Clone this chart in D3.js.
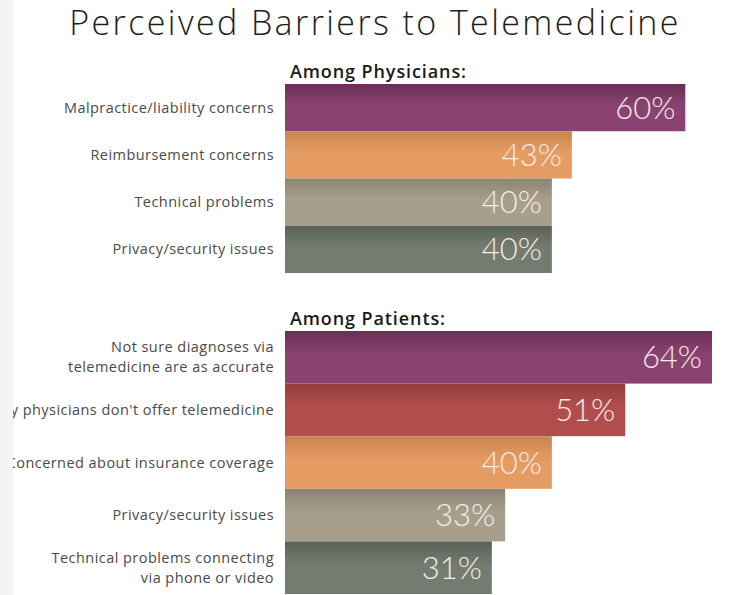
<!DOCTYPE html>
<html>
<head>
<meta charset="utf-8">
<script src="https://cdn.jsdelivr.net/npm/d3@7"></script>
<style>
  body { margin: 0; background: #fff; }
  svg { display: block; }
</style>
</head>
<body>
<svg></svg>
<script>
const width = 737
const height = 595

const physLabels = [["Malpractice/liability concerns"], ["Reimbursement concerns"], ["Technical problems"], ["Privacy/security issues"]]
const physValues = [60, 43, 40, 40]
const physColors = ["purple", "orange", "tan", "slate"]

const patLabels = [["Not sure diagnoses via", "telemedicine are as accurate"], ["Many physicians don't offer telemedicine"],
  ["Concerned about insurance coverage"], ["Privacy/security issues"], ["Technical problems connecting", "via phone or video"]]
const patValues = [64, 51, 40, 33, 31]
const patColors = ["purple", "red", "orange", "tan", "slate"]

// top / bottom shade of each bar
const palette = {
  purple: ["#6a2f55", "#8a4371"],
  red: ["#943e3f", "#b14e4c"],
  orange: ["#c8854f", "#e59c62"],
  tan: ["#8a8474", "#a79f8b"],
  slate: ["#5b6258", "#747b70"]
}

const svg = d3.select("svg").attr("width", width).attr("height", height)
const defs = svg.append("defs")
Object.entries(palette).forEach(([k, c]) => {
  const g = defs.append("linearGradient").attr("id", "g-" + k)
    .attr("x1", 0).attr("y1", 0).attr("x2", 0).attr("y2", 1)
  g.append("stop").attr("offset", "0%").attr("stop-color", c[0])
  g.append("stop").attr("offset", "45%").attr("stop-color", c[1])
  g.append("stop").attr("offset", "100%").attr("stop-color", c[1])
})

const x = d3.scaleLinear([0, 64], [285, 712])
const label_font = "'Open Sans', Lato, sans-serif"
const value_font = "Lato, 'Open Sans', sans-serif"

svg.append("text")
  .attr("x", 375).attr("y", 35)
  .attr("text-anchor", "middle")
  .style("font-family", label_font).style("font-weight", 300)
  .style("font-size", "34px").style("letter-spacing", "2.4px").style("fill", "#1e1e1e")
  .text("Perceived Barriers to Telemedicine")

let draw_group = (title, titleY, labels, values, colors, range) => {
  const y = d3.scaleBand(d3.range(values.length), range)

  svg.append("text")
    .attr("x", 290).attr("y", titleY)
    .style("font-family", label_font).style("font-weight", 600)
    .style("font-size", "18px").style("letter-spacing", "0.9px").style("fill", "#1a1a1a")
    .text(title)

  const g = svg.append("g")
  g.selectAll("rect").data(values).join("rect")
    .attr("x", x(0))
    .attr("y", (d, i) => y(i))
    .attr("width", d => x(d) - x(0))
    .attr("height", y.bandwidth())
    .style("fill", (d, i) => "url(#g-" + colors[i] + ")")

  g.selectAll("text.value").data(values).join("text")
    .classed("value", true)
    .attr("x", d => x(d) - 10)
    .attr("y", (d, i) => y(i) + y.bandwidth() / 2 + 11)
    .attr("text-anchor", "end")
    .style("font-family", value_font).style("font-weight", 300)
    .style("font-size", "31px").style("fill", "#f6ebe8")
    .text(d => d + "%")

  labels.forEach((lines, i) => {
    const t = g.append("text")
      .attr("text-anchor", "end")
      .style("font-family", label_font).style("font-size", "14.5px")
      .style("letter-spacing", "0.45px").style("fill", "#4a4a4a")
    lines.forEach((line, j) => {
      t.append("tspan")
        .attr("x", 274)
        .attr("y", y(i) + y.bandwidth() / 2 + 5 + (j - (lines.length - 1) / 2) * 20)
        .text(line)
    })
  })
}

draw_group("Among Physicians:", 78, physLabels, physValues, physColors, [84, 273])
draw_group("Among Patients:", 325, patLabels, patValues, patColors, [331, 594])

// grey page strip on the left edge, hides the start of long labels
svg.append("rect").attr("x", 0).attr("y", 0).attr("width", 13).attr("height", height)
  .style("fill", "#f4f4f4")
</script>
</body>
</html>
